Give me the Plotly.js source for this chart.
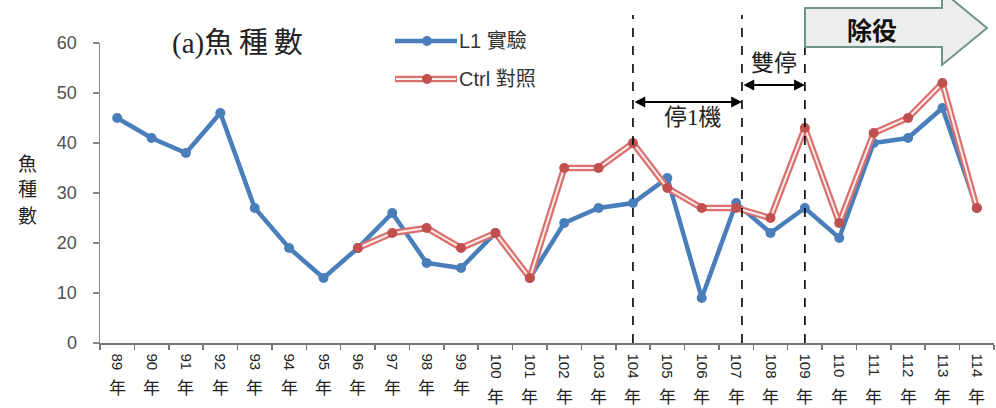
<!DOCTYPE html>
<html>
<head>
<meta charset="utf-8">
<script src="https://cdn.plot.ly/plotly-3.0.1.min.js"></script>
<style>html,body{margin:0;padding:0;background:#fff;}#chart{width:996px;height:408px;}</style>
</head>
<body>
<div id="chart"></div>
<script>
// ---- data ----
const years = ['89','90','91','92','93','94','95','96','97','98','99','100','101','102','103','104','105','106','107','108','109','110','111','112','113','114'];
const categories = years.map(y => y + '年');
const l1Values = [45,41,38,46,27,19,13,19,26,16,15,22,13,24,27,28,33,9,28,22,27,21,40,41,47,27];
const ctrlValues = [null,null,null,null,null,null,null,19,22,23,19,22,13,35,35,40,31,27,27,25,43,24,42,45,52,27];
const seriesNames = ['L1 實驗', 'Ctrl 對照'];
const yTickValues = [0,10,20,30,40,50,60];

// ---- geometry helpers (plot area in pixels) ----
const L = 100, R = 994, T = 43, B = 343;
const px = x => (x - L) / (R - L);
const py = y => (B - y) / (B - T);

const blue = '#4a7ebb';
const red = '#c0504d';
const redOuter = '#d9726e';
const redInner = '#fdeeee';

const traces = [
  {x: categories, y: l1Values, type: 'scatter', mode: 'lines+markers', name: seriesNames[0],
   line: {color: blue, width: 4.5}, marker: {color: blue, size: 10}, showlegend: false, cliponaxis: false},
  {x: categories, y: ctrlValues, type: 'scatter', mode: 'lines', name: seriesNames[1] + ' outer',
   line: {color: redOuter, width: 6.5}, showlegend: false, hoverinfo: 'skip', cliponaxis: false},
  {x: categories, y: ctrlValues, type: 'scatter', mode: 'lines+markers', name: seriesNames[1],
   line: {color: redInner, width: 2}, marker: {color: red, size: 10}, showlegend: false, cliponaxis: false}
];

const shapes = [];
const annotations = [];

function note(xp, yp, text, font, extra) {
  annotations.push(Object.assign({xref: 'paper', yref: 'paper', x: px(xp), y: py(yp), text: text,
    showarrow: false, xanchor: 'center', yanchor: 'middle', font: font}, extra || {}));
}

// dashed period lines (category index positions)
[[15, 15], [18.17, 15], [20, 15]].forEach(([xi, topPx]) => {
  shapes.push({type: 'line', xref: 'x', yref: 'paper', x0: xi, x1: xi, y0: 0, y1: py(topPx),
    line: {color: '#000', width: 1.6, dash: 'dash'}, layer: 'above'});
});

// double-headed arrows
function dblArrow(xa, xb, yv) {
  annotations.push({x: xb, y: yv, ax: xa, ay: yv, xref: 'x', yref: 'y', axref: 'x', ayref: 'y',
    text: '', showarrow: true, arrowside: 'end+start', arrowhead: 2, startarrowhead: 2,
    arrowsize: 1.2, startarrowsize: 1.2, arrowwidth: 1.8, arrowcolor: '#000'});
}
dblArrow(15, 18.17, (B - 102) / 5);
dblArrow(18.17, 20, (B - 85) / 5);

const cjk = 'Liberation Serif, Noto Sans CJK TC, serif';
note(693, 117, '停1機', {family: cjk, size: 23, color: '#222'});
note(774, 63, '雙停', {family: cjk, size: 23, color: '#222'});

// block arrow 除役
const pts = [[805,8],[942,8],[942,-9],[987,28],[942,65],[942,47],[805,47]];
shapes.push({type: 'path', xref: 'paper', yref: 'paper',
  path: 'M ' + pts.map(p => px(p[0]) + ',' + py(p[1])).join(' L ') + ' Z',
  fillcolor: '#eceeed', line: {color: '#6f948a', width: 2}, layer: 'above'});
note(872, 29, '<b>除役</b>', {family: 'Noto Sans CJK TC', size: 25, color: '#111'});

// title
note(237, 43, '(a)魚\u2009種\u2009數', {family: cjk, size: 29, color: '#222'});

// y-axis title (stacked characters)
['魚', '種', '數'].forEach((ch, i) => {
  note(27, 162 + i * 26, ch, {family: 'Noto Sans CJK TC', size: 19, color: '#222'}, {borderpad: 0});
});

// custom legend
shapes.push({type: 'line', xref: 'paper', yref: 'paper', x0: px(395), x1: px(457), y0: py(41), y1: py(41),
  line: {color: blue, width: 4.5}, layer: 'above'});
shapes.push({type: 'circle', xref: 'paper', yref: 'paper', x0: px(422), x1: px(432), y0: py(46), y1: py(36),
  fillcolor: blue, line: {color: blue, width: 0}, layer: 'above'});
shapes.push({type: 'line', xref: 'paper', yref: 'paper', x0: px(395), x1: px(457), y0: py(79), y1: py(79),
  line: {color: redOuter, width: 6.5}, layer: 'above'});
shapes.push({type: 'line', xref: 'paper', yref: 'paper', x0: px(396), x1: px(456), y0: py(79), y1: py(79),
  line: {color: redInner, width: 2}, layer: 'above'});
shapes.push({type: 'circle', xref: 'paper', yref: 'paper', x0: px(422), x1: px(432), y0: py(84), y1: py(74),
  fillcolor: red, line: {color: red, width: 0}, layer: 'above'});
note(457, 41, seriesNames[0], {family: 'Liberation Sans, Noto Sans CJK TC', size: 20, color: '#333'}, {xanchor: 'left'});
note(457, 79, seriesNames[1], {family: 'Liberation Sans, Noto Sans CJK TC', size: 20, color: '#333'}, {xanchor: 'left'});

// upright 年 under rotated digits
categories.forEach((c, i) => {
  annotations.push({x: c, y: 0, xref: 'x', yref: 'y', xanchor: 'center', yanchor: 'top', text: '年', showarrow: false,
    yshift: -(12 + years[i].length * 8.6), font: {family: 'Noto Sans CJK TC', size: 17, color: '#222'}});
});

const layout = {
  width: 996, height: 408,
  margin: {l: L, r: 996 - R, t: T, b: 408 - B, pad: 0},
  paper_bgcolor: '#fff', plot_bgcolor: '#fff',
  font: {family: 'Liberation Sans, Noto Sans CJK TC', color: '#404040'},
  showlegend: false,
  xaxis: {type: 'category', categoryorder: 'array', categoryarray: categories,
    tickmode: 'array', tickvals: categories, ticktext: years, tickangle: 90,
    tickson: 'boundaries', ticks: 'outside', ticklen: 5, tickwidth: 1.5, tickcolor: '#777',
    showline: true, linecolor: '#777', linewidth: 1.5, showgrid: false, zeroline: false,
    range: [-0.5, 25.5], tickfont: {size: 15, color: '#222'}, ticklabelstandoff: 6},
  yaxis: {range: [0, 60], tickmode: 'array', tickvals: yTickValues, ticks: 'outside', ticklen: 6,
    tickwidth: 1.5, tickcolor: '#888', showline: true, linecolor: '#888', linewidth: 1.5,
    showgrid: false, zeroline: false, tickfont: {size: 18, color: '#505050'}, ticklabelstandoff: 12},
  shapes: shapes,
  annotations: annotations
};

Plotly.newPlot('chart', traces, layout, {staticPlot: true, displayModeBar: false});
</script>
</body>
</html>
